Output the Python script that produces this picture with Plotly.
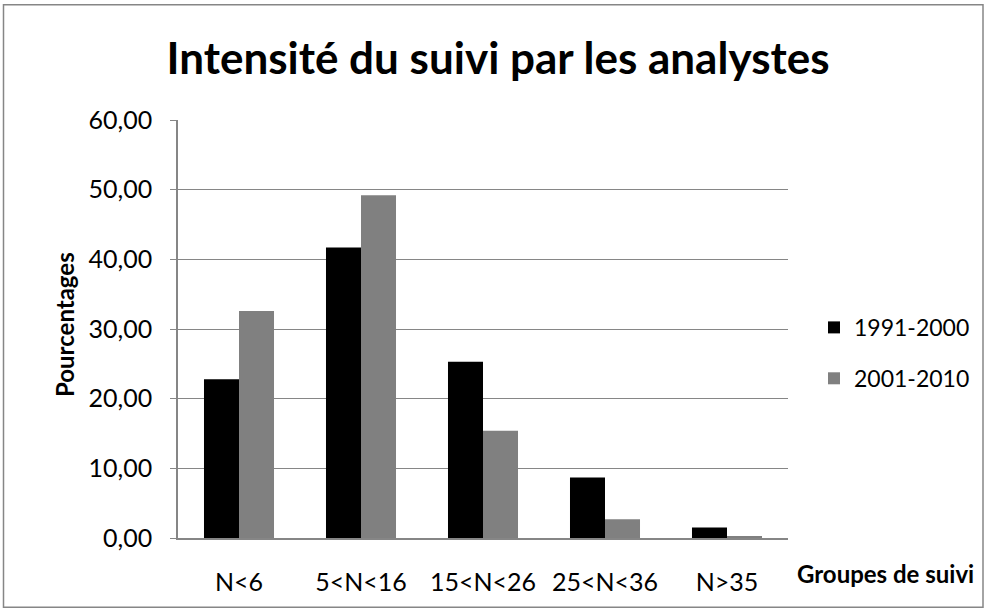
import plotly.graph_objects as go

categories = ["N<6", "5<N<16", "15<N<26", "25<N<36", "N>35"]
series_names = ["1991-2000", "2001-2010"]
values_1991_2000 = [22.8, 41.7, 25.3, 8.7, 1.5]
values_2001_2010 = [32.6, 49.2, 15.4, 2.7, 0.3]
y_ticks = [0, 10, 20, 30, 40, 50, 60]

FONT = "Lato"
W, H = 986, 612
# plot area in page pixels
L, R, T, B = 178, 788, 119.5, 538.5

fig = go.Figure()
fig.add_trace(go.Bar(x=categories, y=values_1991_2000, name=series_names[0],
                     marker=dict(color="#000000", line=dict(width=0)), legendgroup="a"))
fig.add_trace(go.Bar(x=categories, y=values_2001_2010, name=series_names[1],
                     marker=dict(color="#808080", line=dict(width=0)), legendgroup="b"))


def px(p):
    """page x pixel -> paper coordinate"""
    return (p - L) / (R - L)


def py(p):
    """page y pixel -> paper coordinate"""
    return (B - p) / (B - T)


fig.update_layout(
    width=W, height=H,
    margin=dict(l=L, r=W - R, t=T, b=H - B, autoexpand=False),
    paper_bgcolor="white", plot_bgcolor="white",
    separators=", ",
    barmode="group", bargap=0.426, bargroupgap=0,
    font=dict(family=FONT, color="#000000", size=24),
    title=dict(text="<b>Intensité du suivi par les analystes</b>",
               x=498 / W, xref="container", xanchor="center",
               y=1 - 59 / H, yref="container", yanchor="middle",
               font=dict(family=FONT, size=44, color="#000000")),
    xaxis=dict(showgrid=False, showline=True, linecolor="#868686", linewidth=1.5,
               ticks="", tickfont=dict(size=25), ticklabelstandoff=21),
    yaxis=dict(range=[0, 60], tickvals=y_ticks, tickformat=".2f",
               showgrid=True, gridcolor="#868686", gridwidth=1,
               showline=True, linecolor="#868686", linewidth=1.5,
               ticks="outside", ticklen=6, tickcolor="#868686",
               tickfont=dict(size=25), zeroline=False, ticklabelstandoff=13),
    legend=dict(x=px(814), xanchor="left", y=py(353), yanchor="middle",
                font=dict(size=23), tracegroupgap=18, traceorder="grouped",
                itemwidth=30, bgcolor="rgba(0,0,0,0)"),
    showlegend=True,
)

fig.add_annotation(text="<b>Pourcentages</b>", xref="paper", yref="paper",
                   x=px(64), y=py(325), xanchor="center", yanchor="middle",
                   textangle=-90, showarrow=False,
                   font=dict(family=FONT, size=24, color="#000000"))

fig.add_annotation(text="<b>Groupes de suivi</b>", xref="paper", yref="paper",
                   x=px(885), y=py(574), xanchor="center", yanchor="middle",
                   showarrow=False, font=dict(family=FONT, size=24, color="#000000"))

fig.add_shape(type="rect", xref="paper", yref="paper",
              x0=px(3.5), x1=px(983), y0=py(608), y1=py(4),
              line=dict(color="#868686", width=1.5), fillcolor="rgba(0,0,0,0)", layer="below")

fig.write_html("out.html", config={"displayModeBar": False},
               post_script="document.body.style.margin='0px';document.body.style.overflow='hidden';")
